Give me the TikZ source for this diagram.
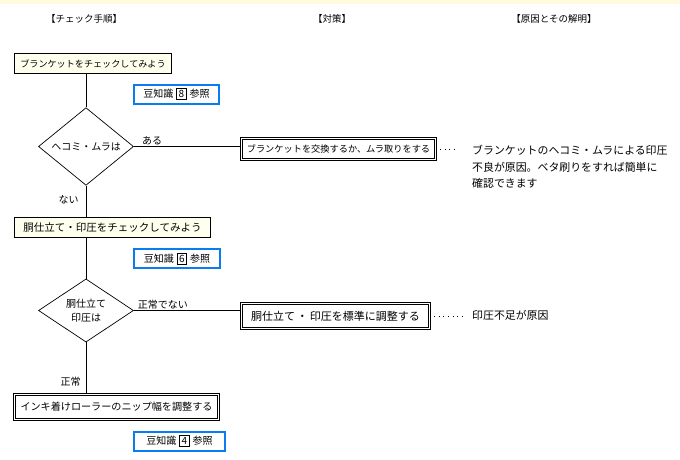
\documentclass[tikz,border=0pt]{standalone}
\usepackage{fontspec}
\setmainfont{Noto Sans CJK JP}
\usetikzlibrary{shapes.geometric, positioning}
\usepackage{xcolor}
\definecolor{cream}{HTML}{FFFFEE}
\definecolor{refblue}{HTML}{0A7CF0}
\definecolor{topband}{HTML}{FFFBDC}
\newcommand{\numbox}[1]{{\setlength{\fboxsep}{1.6pt}\setlength{\fboxrule}{0.7pt}\fbox{#1}}}

\begin{document}
\begin{tikzpicture}[
x=1pt, y=-1pt,
box/.style={draw,
rectangle,
line width=0.7pt,
inner sep=0pt,
align=center},
checkbox/.style={box, fill=cream},
actbox/.style={box, double, double distance=1.6pt, line width=0.6pt},
refbox/.style={draw=refblue, line width=2pt, rectangle, inner sep=0pt,
minimum height=19pt, font=\fontsize{10}{12}\selectfont},
decision/.style={draw, diamond, line width=0.7pt, inner sep=0pt,
minimum width=95pt, minimum height=54pt, align=center,
font=\fontsize{10}{14}\selectfont},
lbl/.style={font=\fontsize{10}{12}\selectfont, inner sep=1pt},
head/.style={font=\fontsize{9.5}{11}\selectfont},
cause/.style={font=\fontsize{10.9}{16.5}\selectfont, align=left, inner sep=0pt},
line/.style={line width=0.7pt},
dots/.style={line width=0.9pt, dash pattern=on 0.9pt off 3.8pt}
]
\useasboundingbox (0,0) rectangle (680,460);
\fill[topband] (0,0) rectangle (680,4);

% headings
\node[head] (headcheck) at (84,19) {【チェック手順】};
\node[head] (headfix) at (332,19) {【対策】};
\node[head] (headcause) at (554,19) {【原因とその解明】};

% check column
\node[checkbox, minimum width=157pt, minimum height=20pt, font=\fontsize{9.1}{11}\selectfont] (check1) at (93,63.5) {ブランケットをチェックしてみよう};
\node[refbox, minimum width=85pt] (ref1) at (176.5,94) {豆知識\hspace{3pt}\numbox{8}\hspace{3pt}参照};
\node[decision] (dia1) at (86,146.5) {ヘコミ・ムラは};
\node[checkbox, minimum width=196pt, minimum height=20pt, font=\fontsize{10.5}{12}\selectfont] (check2) at (112.5,227.5) {胴仕立て・印圧をチェックしてみよう};
\node[refbox, minimum width=86pt] (ref2) at (177,258.5) {豆知識\hspace{3pt}\numbox{6}\hspace{3pt}参照};
\node[decision] (dia2) at (86,310.5) {胴仕立て\\印圧は};
\node[actbox, minimum width=204pt, minimum height=25pt, font=\fontsize{10.1}{12}\selectfont] (fix3) at (116.5,407) {インキ着けローラーのニップ幅を調整する};
\node[refbox, minimum width=91pt] (ref3) at (179.5,441) {豆知識\hspace{3pt}\numbox{4}\hspace{3pt}参照};

% fix column
\node[actbox, minimum width=194pt, minimum height=21pt, font=\fontsize{9.2}{11}\selectfont] (fix1) at (338.5,149) {ブランケットを交換するか、ムラ取りをする};
\node[actbox, minimum width=188pt, minimum height=25pt, font=\fontsize{11}{13}\selectfont] (fix2) at (335.5,316) {胴仕立て\,・\,印圧を標準に調整する};

% cause column
\node[cause, anchor=north west] (cause1) at (472,145) {ブランケットのヘコミ・ムラによる印圧\\不良が原因。ベタ刷りをすれば簡単に\\確認できます};
\node[cause, anchor=west] (cause2) at (472,315) {印圧不足が原因};
\coordinate (dot1) at (458,149);
\coordinate (dot2) at (466,316);

% connectors
\draw[line] (dia1.north |- check1.south) -- (dia1.north);
\draw[line] (dia1.east) -- node[lbl, pos=0.17, above] (yes1) {ある} (dia1.east -| fix1.west);
\draw[line] (dia1.south) -- node[lbl, pos=0.45, left=6pt] (no1) {ない} (dia1.south |- check2.north);
\draw[line] (dia2.north |- check2.south) -- (dia2.north);
\draw[line] (dia2.east) -- node[lbl, pos=0.27, above] (yes2) {正常でない} (dia2.east -| fix2.west);
\draw[line] (dia2.south) -- node[lbl, pos=0.76, left=4pt] (no2) {正常} (dia2.south |- fix3.north);
\draw[dots] (fix1.east) ++(4,0) -- (dot1);
\draw[dots] (fix2.east) ++(4,0) -- (dot2);

\end{tikzpicture}
\end{document}
